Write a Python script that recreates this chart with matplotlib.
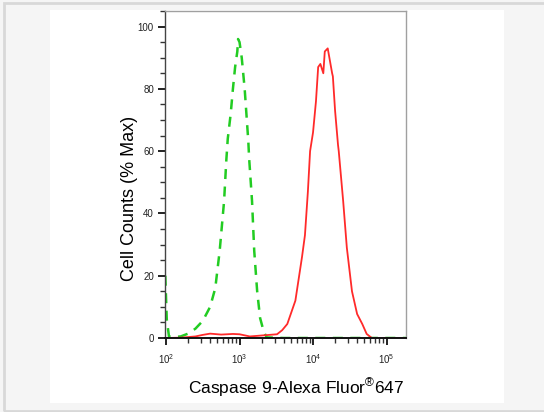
import numpy as np
import matplotlib
matplotlib.use("Agg")
import matplotlib.pyplot as plt
from matplotlib.patches import Rectangle
from matplotlib.ticker import MultipleLocator, FixedLocator, NullFormatter

# isotype control (green dashed), log10 of intensity vs % max
ctrl_log = [1.99, 2.01, 2.04, 2.10, 2.20, 2.30, 2.40, 2.50, 2.60, 2.67, 2.73, 2.79, 2.82, 2.84,
            2.88, 2.91, 2.94, 2.97, 2.98, 3.00, 3.03, 3.07, 3.12, 3.13, 3.17, 3.20,
            3.24, 3.28, 3.33, 3.37, 3.6, 4.0, 4.4, 4.8, 5.27]
ctrl_pct = [20, 6, 0.5, 0.3, 0.5, 1.4, 3.0, 5.5, 10, 16, 28, 44, 57, 64,
            72, 80, 87, 92, 96, 95, 90, 80, 63, 58, 44, 28,
            15, 6.4, 2.0, 0.2, 0, 0, 0, 0, 0]

# caspase 9 stained sample (red solid)
casp_log = [1.99, 2.2, 2.4, 2.5, 2.60, 2.75, 2.91, 3.0, 3.14, 3.3, 3.51, 3.58, 3.65, 3.76, 3.85,
            3.89, 3.93, 3.96, 4.00, 4.04, 4.07, 4.10, 4.14, 4.16, 4.20,
            4.23, 4.26, 4.27, 4.30, 4.34, 4.35, 4.41, 4.46, 4.53, 4.60,
            4.67, 4.73, 4.80, 5.0, 5.27]
casp_pct = [0, 0.1, 0.5, 1.0, 1.4, 1.1, 1.3, 1.2, 0.5, 0.8, 1.2, 2.5, 4.5, 12, 26,
            33, 47, 60, 66, 76, 87, 88, 85, 92, 93,
            89, 85, 84, 73, 62, 60, 44, 29, 15, 7.7,
            4.5, 1.3, 0, 0, 0]

major_x = [1e2, 1e3, 1e4, 1e5]
xtick_labels = ["$10^2$", "$10^3$", "$10^4$", "$10^5$"]
xlabel = "Caspase 9-Alexa Fluor$^{\u00ae}$647"
ylabel = "Cell Counts (% Max)"

plt.rcParams['font.family'] = ['Liberation Sans', 'DejaVu Sans']
plt.rcParams['mathtext.fontset'] = 'custom'
plt.rcParams['mathtext.rm'] = 'Liberation Sans'
plt.rcParams['mathtext.it'] = 'Liberation Sans'
plt.rcParams['mathtext.default'] = 'regular'
plt.rcParams['xtick.minor.visible'] = True
plt.rcParams['ytick.minor.visible'] = True

fig = plt.figure(figsize=(5.44, 4.12), dpi=100)
fig.patch.set_facecolor('#f5f5f5')

# outer frame and white panel (behind the axes)
W, H = 544.0, 412.0
fig.patches.append(Rectangle((4 / W, 1.5 / H), 560 / W, 408 / H, transform=fig.transFigure,
                             facecolor='none', edgecolor='#d8d8d8', linewidth=2, zorder=-2))
fig.patches.append(Rectangle((50 / W, (H - 403) / H), 454 / W, 393 / H, transform=fig.transFigure,
                             facecolor='white', edgecolor='none', zorder=-1))

ax = fig.add_axes([165 / W, (H - 338) / H, 241 / W, 327 / H])
ax.set_facecolor('white')

ax.plot(10 ** np.array(ctrl_log), ctrl_pct, color='#22cc22', linewidth=1.8,
        linestyle=(0, (4, 3)))
ax.plot(10 ** np.array(casp_log), casp_pct, color='#ff2a2a', linewidth=1.3)

ax.set_xscale('log')
ax.set_xlim(10 ** 1.986, 10 ** 5.265)
ax.set_ylim(0, 105)

minor_x = [m * d for d in [1e2, 1e3, 1e4, 1e5] for m in range(2, 10)]
ax.xaxis.set_major_locator(FixedLocator(major_x))
ax.xaxis.set_minor_locator(FixedLocator(minor_x))
ax.xaxis.set_minor_formatter(NullFormatter())
ax.set_xticklabels(xtick_labels)
ax.yaxis.set_major_locator(MultipleLocator(20))
ax.yaxis.set_minor_locator(MultipleLocator(5))

ax.tick_params(axis='both', which='major', direction='out', length=5, width=1.4,
               labelsize=7, color='#222222', labelcolor='#222222')
ax.tick_params(axis='both', which='minor', direction='out', length=3.5, width=1.0,
               color='#333333')
ax.tick_params(axis='x', which='major', pad=5)
ax.tick_params(axis='y', which='major', pad=3)

for s in ['top', 'right']:
    ax.spines[s].set_color('#a0a0a0')
    ax.spines[s].set_linewidth(1.0)
ax.spines['left'].set_color('#444444')
ax.spines['left'].set_linewidth(1.0)
ax.spines['bottom'].set_color('#111111')
ax.spines['bottom'].set_linewidth(1.4)

ax.set_ylabel(ylabel, fontsize=13)
ax.yaxis.set_label_coords((130 - 165) / 241, (338 - 198) / 327)
ax.yaxis.label.set_va('center')
ax.set_xlabel(xlabel, fontsize=12.5)
ax.xaxis.set_label_coords((296 - 165) / 241, (338 - 376) / 327)

fig.savefig("out.png", dpi=100, facecolor=fig.get_facecolor())
